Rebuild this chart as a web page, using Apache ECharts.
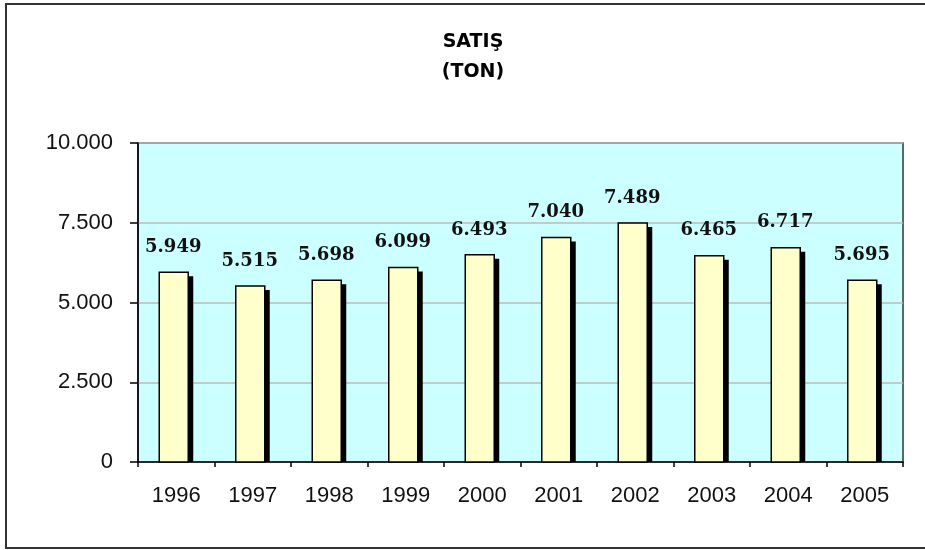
<!DOCTYPE html>
<html>
<head>
<meta charset="utf-8">
<script src="https://cdn.jsdelivr.net/npm/echarts@6/dist/echarts.min.js"></script>
<style>html,body{margin:0;padding:0;background:#fff;}#c{width:925px;height:550px;}</style>
</head>
<body>
<div id="c"></div>
<script>
const categories = ['1996','1997','1998','1999','2000','2001','2002','2003','2004','2005'];
const salesTon = [5949, 5515, 5698, 6099, 6493, 7040, 7489, 6465, 6717, 5695];
const yTicks = [0, 2500, 5000, 7500, 10000];
const titleText = 'SATIŞ\n(TON)';

function fmt(v) {
  return String(v).replace(/\B(?=(\d{3})+(?!\d))/g, '.');
}

const chart = echarts.init(document.getElementById('c'), null, {renderer: 'canvas'});
chart.setOption({
  animation: false,
  backgroundColor: '#fff',
  title: {
    text: titleText,
    left: 468,
    textAlign: 'center',
    top: 22,
    textStyle: {fontFamily: 'DejaVu Sans', fontWeight: 'bold', fontSize: 19, lineHeight: 30, color: '#000'}
  },
  graphic: [{
    type: 'rect', z: 100,
    shape: {x: 6, y: 4, width: 940, height: 544},
    style: {fill: null, stroke: '#333', lineWidth: 2}
  }],
  grid: {
    left: 138, right: 22, top: 143, bottom: 88,
    show: true, backgroundColor: '#CCFFFF', borderColor: '#333', borderWidth: 1.5
  },
  xAxis: {
    type: 'category',
    data: categories,
    axisLine: {lineStyle: {color: '#000', width: 1.5}},
    axisTick: {show: true, length: 5, lineStyle: {color: '#000', width: 1.5}},
    axisLabel: {fontFamily: 'Liberation Sans', fontSize: 22, color: '#111', margin: 23}
  },
  yAxis: {
    type: 'value',
    min: 0, max: yTicks[yTicks.length - 1], interval: yTicks[1] - yTicks[0],
    axisLine: {show: true, lineStyle: {color: '#000', width: 1.5}},
    axisTick: {show: true, length: 8, lineStyle: {color: '#000', width: 1.5}},
    axisLabel: {fontFamily: 'Liberation Sans', fontSize: 22, color: '#111', margin: 25, formatter: fmt},
    splitLine: {lineStyle: {color: '#BBBBBB', width: 1.5}}
  },
  series: [{
    type: 'custom',
    data: salesTon.map((v, i) => [i, v]),
    renderItem: function (params, api) {
      const top = api.coord([api.value(0), api.value(1)]);
      const base = api.coord([api.value(0), 0]);
      const h = base[1] - top[1];
      return {
        type: 'group',
        children: [
          {type: 'rect', shape: {x: top[0] + 12, y: top[1] + 4, width: 5, height: h - 4}, style: {fill: '#000'}},
          {type: 'rect', shape: {x: top[0] - 17, y: top[1], width: 29, height: h}, style: {fill: '#FFFFCC', stroke: '#000', lineWidth: 1.5}},
          {type: 'text', style: {x: top[0] - 3, y: top[1] - 16, text: fmt(api.value(1)), align: 'center', verticalAlign: 'bottom',
            font: 'bold 18px "DejaVu Serif"', fill: '#111'}}
        ]
      };
    }
  }]
});
</script>
</body>
</html>
